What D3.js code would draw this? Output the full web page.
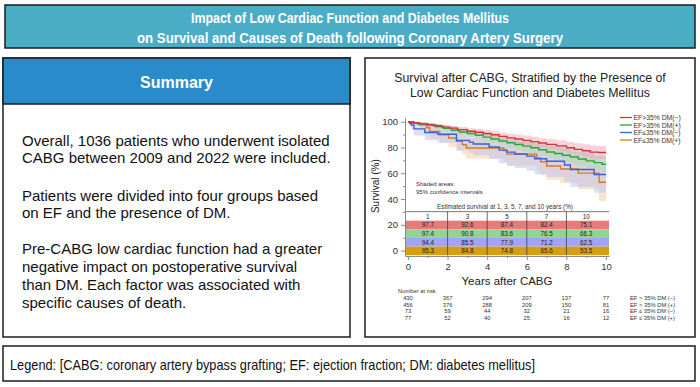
<!DOCTYPE html>
<html>
<head>
<meta charset="utf-8">
<script src="https://cdn.jsdelivr.net/npm/d3@7"></script>
<style>
  body { margin: 0; background: #fff; }
  svg { display: block; }
</style>
</head>
<body>
<div id="fig"></div>
<script>
// ---- data ----
const titleLines = ["Impact of Low Cardiac Function and Diabetes Mellitus",
                    "on Survival and Causes of Death following Coronary Artery Surgery"];
const summaryLines = ["Overall, 1036 patients who underwent isolated",
                      "CABG between 2009 and 2022 were included.",
                      "Patients were divided into four groups based",
                      "on EF and the presence of DM.",
                      "Pre-CABG low cardiac function had a greater",
                      "negative impact on postoperative survival",
                      "than DM. Each factor was associated with",
                      "specific causes of death."];
const legendText = "Legend: [CABG: coronary artery bypass grafting; EF: ejection fraction; DM: diabetes mellitus]";

const groups = ["EF>35% DM(\u2212)", "EF>35% DM(+)", "EF\u226435% DM(\u2212)", "EF\u226435% DM(+)"];
const riskLabels = ["EF > 35% DM (\u2212)", "EF > 35% DM (+)", "EF \u2264 35% DM (\u2212)", "EF \u2264 35% DM (+)"];

// Kaplan-Meier steps (years, survival %) with 95% CI
const redT = [0,0.1,0.3,0.6,1.0,1.3,1.7,2.1,2.5,3.0,3.4,3.8,4.2,4.6,5.0,5.4,5.8,6.2,6.6,7.0,7.5,8.0,8.4,8.8,9.2,9.6,10];
const redS = [100,99.5,99,98.3,97.7,96.8,95.8,95,93.8,92.6,91.8,90.8,89.8,88.6,87.4,86.6,85.5,84.5,83.4,82.4,81.2,79.8,78.5,77.4,76.4,76.1,76.1];
const redLo = [100,98.8,98.1,97.1,96.3,95.2,94.0,93.0,91.6,90.2,89.2,88.0,86.9,85.5,84.1,83.1,81.9,80.8,79.5,78.3,76.9,75.3,73.8,72.5,71.3,71.0,71.0];
const redHi = [100,100,99.8,99.4,99.0,98.3,97.5,96.9,95.9,94.9,94.3,93.5,92.6,91.6,90.6,90.0,89.2,88.3,87.4,86.5,85.5,84.4,83.3,82.4,81.6,81.3,81.3];

const greenT = [0,0.2,0.5,1.0,1.4,1.8,2.2,2.6,3.0,3.4,3.8,4.2,4.6,5.0,5.4,5.8,6.2,6.6,7.0,7.4,7.8,8.2,8.6,9.0,9.4,9.8,10];
const greenS = [100,99,98.2,97.4,96.2,94.8,93.3,92,90.8,89.5,88,86.6,85,83.6,82.3,81,79.8,78.2,76.5,75.3,74,72.6,71,69.6,68.2,67,67];
const greenLo = [100,98.1,97.0,95.9,94.4,92.7,91.0,89.5,88.1,86.6,84.9,83.4,81.6,80.0,78.5,77.0,75.6,73.8,71.9,70.5,69.0,67.4,65.6,64.0,62.4,61.0,61.0];
const greenHi = [100,99.9,99.4,98.9,98.0,96.9,95.6,94.5,93.5,92.4,91.1,89.8,88.4,87.2,86.1,85.0,84.0,82.6,81.1,80.1,79.0,77.8,76.4,75.2,74.0,73.0,73.0];

const blueT = [0,0.08,0.18,0.3,0.85,1.5,2.45,3.1,3.3,4.1,4.6,5.0,5.4,6.0,6.4,7.0,7.9,8.2,9.4,10];
const blueS = [100,98.6,97.3,94.4,91.6,90.2,85.5,84.1,82.7,80.4,77.9,76.4,74.9,73.3,71.2,69.3,66.4,62.9,59.0,59.0];
const blueLo = [100,96.0,93.8,89.2,85.5,83.6,77.6,75.8,74.0,71.0,67.8,65.9,64.0,62.0,59.3,57.0,53.4,49.3,44.8,44.8];
const blueHi = [100,100,100,99.0,97.4,96.4,93.0,92.0,91.0,89.2,87.4,86.3,85.2,84.0,82.4,81.0,78.8,76.2,73.3,73.3];

const orangeT = [0,0.3,0.6,0.93,1.1,1.6,2.05,2.45,2.75,2.95,4.85,5.0,6.5,6.7,7.0,7.7,8.6,9.65,10];
const orangeS = [100,98.9,97.6,95.3,92.5,89.9,87.3,84.8,82.2,79.6,77.5,74.8,71.9,68.9,65.6,63.3,60.1,53.0,53.0];
const orangeLo = [100,96.5,94.2,90.7,86.9,83.6,80.4,77.4,74.4,71.4,69.0,65.8,62.0,58.6,54.9,52.2,47.5,38.5,38.5];
const orangeHi = [100,100,99.6,98.5,96.6,94.8,92.9,91.1,89.1,87.1,85.6,83.5,81.1,78.6,75.9,74.0,71.3,65.0,65.0];

const estYears = [1, 3, 5, 7, 10];
const estRed = ["97.7", "92.6", "87.4", "82.4", "75.1"];
const estGreen = ["97.4", "90.8", "83.6", "76.5", "66.3"];
const estBlue = ["94.4", "85.5", "77.9", "71.2", "62.5"];
const estOrange = ["95.3", "84.8", "74.8", "65.6", "53.5"];

const riskYears = [0, 2, 4, 6, 8, 10];
const riskRed = [430, 367, 294, 207, 137, 77];
const riskGreen = [456, 376, 288, 209, 150, 81];
const riskBlue = [73, 59, 44, 32, 21, 16];
const riskOrange = [77, 52, 40, 25, 16, 12];

// ---- layout ----
const width = 700, height = 387;
const sans = "'Liberation Sans', Arial, sans-serif";

const svg = d3.select("#fig").append("svg")
    .attr("width", width)
    .attr("height", height);

// title banner (narrow bold face squeezed to the reference widths)
svg.append("rect")
    .attr("x", 5).attr("y", 5).attr("width", 690).attr("height", 43)
    .attr("fill", "#4bacc6").attr("stroke", "#1c1c1c").attr("stroke-width", 1.5);
const titleLen = [318, 426];
svg.selectAll(".ttl").data(titleLines).enter().append("text")
    .attr("x", 350)
    .attr("y", (d, i) => 17 + i * 20)
    .attr("text-anchor", "middle")
    .attr("dominant-baseline", "central")
    .attr("textLength", (d, i) => titleLen[i])
    .attr("lengthAdjust", "spacingAndGlyphs")
    .style("font-family", sans)
    .style("font-weight", "bold")
    .style("font-size", "15.5px")
    .style("fill", "#fff")
    .text(d => d);

// summary panel
svg.append("rect")
    .attr("x", 3).attr("y", 58).attr("width", 347).attr("height", 279)
    .attr("fill", "#fff").attr("stroke", "#1c1c1c").attr("stroke-width", 1.5);
svg.append("rect")
    .attr("x", 3).attr("y", 58).attr("width", 347).attr("height", 46)
    .attr("fill", "#2a8bcb").attr("stroke", "#1c1c1c").attr("stroke-width", 1.5);
svg.append("text")
    .attr("x", 176.5).attr("y", 82)
    .attr("text-anchor", "middle")
    .attr("dominant-baseline", "central")
    .style("font-family", sans)
    .style("font-weight", "bold")
    .style("font-size", "16px")
    .style("fill", "#fff")
    .text("Summary");
const bodyY = [140, 157.5, 195, 212.5, 248, 266, 284, 302];
svg.selectAll(".sum").data(summaryLines).enter().append("text")
    .attr("x", 22)
    .attr("y", (d, i) => bodyY[i])
    .attr("dominant-baseline", "central")
    .style("font-family", sans)
    .style("font-size", "15px")
    .style("fill", "#111")
    .text(d => d);

// legend strip
svg.append("rect")
    .attr("x", 3).attr("y", 346).attr("width", 692).attr("height", 35)
    .attr("fill", "#fff").attr("stroke", "#1c1c1c").attr("stroke-width", 1.5);
svg.append("text")
    .attr("x", 10).attr("y", 364)
    .attr("dominant-baseline", "central")
    .attr("textLength", 525)
    .attr("lengthAdjust", "spacingAndGlyphs")
    .style("font-family", sans)
    .style("font-size", "15px")
    .style("fill", "#111")
    .text(legendText);

// chart panel
svg.append("rect")
    .attr("x", 365).attr("y", 58).attr("width", 330).attr("height", 279)
    .attr("fill", "#fff").attr("stroke", "#1c1c1c").attr("stroke-width", 1.5);
svg.selectAll(".ctl").data(["Survival after CABG, Stratified by the Presence of",
                            "Low Cardiac Function and Diabetes Mellitus"]).enter().append("text")
    .attr("x", 530)
    .attr("y", (d, i) => 78 + i * 15)
    .attr("text-anchor", "middle")
    .attr("dominant-baseline", "central")
    .style("font-family", sans)
    .style("font-size", "12.3px")
    .style("fill", "#222")
    .text(d => d);

const x = d3.scaleLinear().domain([-0.15, 10.15]).range([405, 609]);
const y = d3.scaleLinear().domain([-4.2, 103]).range([256, 117.8]);

const colors = ["#d7303f", "#2fa43a", "#3f5fd0", "#db7a1c"];
const shades = ["#f2a8b3", "#a9dca9", "#b9bff0", "#f5c99c"];
const rowFill = ["#e77b7b", "#93d493", "#a3a3f7", "#d4a00f"];

const series = [
    { t: redT, s: redS, lo: redLo, hi: redHi },
    { t: greenT, s: greenS, lo: greenLo, hi: greenHi },
    { t: blueT, s: blueS, lo: blueLo, hi: blueHi },
    { t: orangeT, s: orangeS, lo: orangeLo, hi: orangeHi }
];

const plot = svg.append("g");

// confidence bands
const band = d3.area()
    .x(d => x(d.t))
    .y0(d => y(d.lo))
    .y1(d => y(d.hi))
    .curve(d3.curveStepAfter);
[3, 2, 1, 0].forEach(k => {
    const ser = series[k];
    const pts = ser.t.map((t, i) => ({ t: t, lo: ser.lo[i], hi: ser.hi[i] }));
    plot.append("path")
        .datum(pts)
        .attr("d", band)
        .attr("fill", shades[k])
        .attr("fill-opacity", 0.5);
});

// step curves
const step = d3.line()
    .x(d => x(d.t))
    .y(d => y(d.s))
    .curve(d3.curveStepAfter);
[3, 2, 1, 0].forEach(k => {
    const ser = series[k];
    plot.append("path")
        .datum(ser.t.map((t, i) => ({ t: t, s: ser.s[i] })))
        .attr("d", step)
        .attr("fill", "none")
        .attr("stroke", colors[k])
        .attr("stroke-width", 1.4);
});

// shaded note
plot.selectAll(".note").data(["Shaded areas:", "95% confidence intervals"]).enter().append("text")
    .attr("x", 416)
    .attr("y", (d, i) => 184 + i * 7.5)
    .attr("dominant-baseline", "central")
    .style("font-family", sans)
    .style("font-size", "6px")
    .style("fill", "#333")
    .text(d => d);

// estimate table inside the plot
const tbl = plot.append("g");
const rowTop = [23.2, 16.5, 9.8, 3.1];
const rowH = 6.7;
const estRows = [estRed, estGreen, estBlue, estOrange];
tbl.append("text")
    .attr("x", x(4.9)).attr("y", y(34.5))
    .attr("text-anchor", "middle")
    .attr("dominant-baseline", "central")
    .style("font-family", sans)
    .style("font-size", "6.3px")
    .style("fill", "#333")
    .text("Estimated survival at 1, 3, 5, 7, and 10 years (%)");
tbl.append("line")
    .attr("x1", x(-0.15)).attr("x2", x(10.15))
    .attr("y1", y(30.2)).attr("y2", y(30.2))
    .attr("stroke", "#555").attr("stroke-width", 0.8);
rowTop.forEach((top, r) => {
    tbl.append("rect")
        .attr("x", x(-0.15))
        .attr("y", y(top))
        .attr("width", x(10.15) - x(-0.15))
        .attr("height", y(top - rowH) - y(top))
        .attr("fill", rowFill[r]);
});
[2, 4, 6, 8].forEach(v => {
    tbl.append("line")
        .attr("x1", x(v)).attr("x2", x(v))
        .attr("y1", y(30.2)).attr("y2", y(rowTop[3] - rowH))
        .attr("stroke", "#444").attr("stroke-width", 0.8);
});
const colX = [1, 3, 5, 7, 9];
tbl.selectAll(".hdr").data(estYears).enter().append("text")
    .attr("x", (d, i) => x(colX[i]))
    .attr("y", y(26.6))
    .attr("text-anchor", "middle")
    .attr("dominant-baseline", "central")
    .style("font-family", sans)
    .style("font-size", "6.3px")
    .style("fill", "#222")
    .text(d => d);
estRows.forEach((vals, r) => {
    tbl.selectAll(".v" + r).data(vals).enter().append("text")
        .attr("x", (d, i) => x(colX[i]))
        .attr("y", y(rowTop[r] - rowH / 2))
        .attr("text-anchor", "middle")
        .attr("dominant-baseline", "central")
        .style("font-family", sans)
        .style("font-size", "6.3px")
        .style("fill", "#222")
        .text(d => d);
});

// axes
plot.append("g")
    .attr("transform", `translate(${x(-0.15)},0)`)
    .call(d3.axisLeft(y).tickValues([0, 20, 40, 60, 80, 100]).tickSize(4).tickSizeOuter(0).tickPadding(3));
plot.append("g")
    .attr("transform", `translate(${x(-0.15)},0)`)
    .call(d3.axisLeft(y).tickValues([10, 30, 50, 70, 90]).tickSize(2).tickFormat(""))
    .select(".domain").remove();
plot.append("g")
    .attr("transform", `translate(0,${y(-4.2)})`)
    .call(d3.axisBottom(x).tickValues([0, 2, 4, 6, 8, 10]).tickSize(4).tickSizeOuter(0).tickPadding(3));
plot.append("g")
    .attr("transform", `translate(0,${y(-4.2)})`)
    .call(d3.axisBottom(x).tickValues([1, 3, 5, 7, 9]).tickSize(2).tickFormat(""))
    .select(".domain").remove();
plot.selectAll(".domain, .tick line").attr("stroke", "#8a8a8a");
plot.selectAll(".tick text")
    .style("font-family", sans)
    .style("font-size", "9.5px")
    .style("fill", "#333");

plot.append("text")
    .attr("x", x(5)).attr("y", 281)
    .attr("text-anchor", "middle")
    .attr("dominant-baseline", "central")
    .style("font-family", sans)
    .style("font-size", "11.5px")
    .style("fill", "#222")
    .text("Years after CABG");
plot.append("text")
    .attr("transform", `translate(375,${y(50)}) rotate(-90)`)
    .attr("text-anchor", "middle")
    .attr("dominant-baseline", "central")
    .style("font-family", sans)
    .style("font-size", "10px")
    .style("fill", "#222")
    .text("Survival (%)");

// group legend
const lg = svg.append("g");
groups.forEach((g, i) => {
    const ly = 117.5 + i * 7.5;
    lg.append("line")
        .attr("x1", 620).attr("x2", 632)
        .attr("y1", ly).attr("y2", ly)
        .attr("stroke", colors[i]).attr("stroke-width", 1.3);
    lg.append("text")
        .attr("x", 633.5).attr("y", ly)
        .attr("dominant-baseline", "central")
        .style("font-family", sans)
        .style("font-size", "6.8px")
        .style("fill", "#333")
        .text(g);
});

// number at risk
const risk = svg.append("g");
risk.append("text")
    .attr("x", 398).attr("y", 290.5)
    .attr("dominant-baseline", "central")
    .style("font-family", sans)
    .style("font-size", "5.8px")
    .style("fill", "#333")
    .text("Number at risk");
[riskRed, riskGreen, riskBlue, riskOrange].forEach((row, r) => {
    const ry = 298 + r * 6.6;
    risk.selectAll(".r" + r).data(row).enter().append("text")
        .attr("x", (d, i) => x(riskYears[i]))
        .attr("y", ry)
        .attr("text-anchor", "middle")
        .attr("dominant-baseline", "central")
        .style("font-family", sans)
        .style("font-size", "5.8px")
        .style("fill", "#333")
        .text(d => d);
    risk.append("text")
        .attr("x", 630).attr("y", ry)
        .attr("dominant-baseline", "central")
        .style("font-family", sans)
        .style("font-size", "5.8px")
        .style("fill", "#333")
        .text(riskLabels[r]);
});
</script>
</body>
</html>
